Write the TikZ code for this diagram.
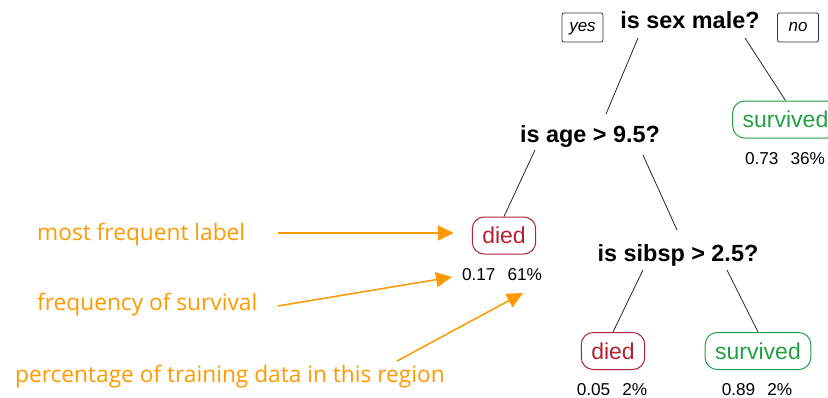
\documentclass[tikz,border=0pt]{standalone}
\usepackage{fontspec}
\setmainfont{Liberation Sans}
\newfontfamily\annfont{Open Sans}
\usetikzlibrary{arrows.meta,calc}
\definecolor{ann}{RGB}{255,153,0}
\definecolor{diedc}{RGB}{178,34,52}
\definecolor{survc}{RGB}{34,160,70}
\begin{document}
\begin{tikzpicture}[x=1pt,y=-1pt,
  q/.style={font=\fontsize{23.4}{23.4}\selectfont\bfseries, inner sep=0pt, anchor=base},
  leaf/.style={draw, line width=1pt, rounded corners=12pt, font=\fontsize{23}{23}\selectfont,
    inner xsep=10pt, inner ysep=0pt, minimum height=37pt, text height=16.5pt, text depth=0pt},
  diedbox/.style={leaf, draw=diedc, text=diedc},
  survbox/.style={leaf, draw=survc, text=survc},
  stat/.style={font=\fontsize{17.2}{17.2}\selectfont, inner sep=0pt, anchor=base},
  tagbox/.style={draw=black!80, line width=0.8pt, rounded corners=2pt, font=\fontsize{17}{17}\selectfont\itshape,
    inner xsep=5pt, inner ysep=0pt, minimum width=41pt, minimum height=29pt, text height=12pt, text depth=4pt},
  edge/.style={draw=black!85, line width=0.8pt},
  annt/.style={font=\annfont\fontsize{22.7}{22.7}\selectfont, text=ann, inner sep=0pt, anchor=base west},
  annarrow/.style={draw=ann, line width=1.5pt, -{Triangle[length=16pt,width=15pt]}}
]
\useasboundingbox (0,0) rectangle (828,397);

% tree nodes
\node[q] (root) at (690,28) {is sex male?};
\node[tagbox] (yes) at (582.5,27.5) {yes};
\node[tagbox] (no) at (798,27.5) {no};
\node[q] (age) at (590,142) {is age > 9.5?};
\node[survbox] (surv1) at (785.5,119.5) {survived};
\node[stat] (s1stat) at (785,164) {0.73\hspace{12pt}36\%};
\node[diedbox] (died1) at (504,235.5) {died};
\node[stat] (d1stat) at (502,280) {0.17\hspace{12pt}61\%};
\node[q] (sib) at (678,261) {is sibsp > 2.5?};
\node[diedbox] (died2) at (613,351) {died};
\node[stat] (d2stat) at (612,395) {0.05\hspace{12pt}2\%};
\node[survbox] (surv2) at (758,351) {survived};
\node[stat] (s2stat) at (757,395) {0.89\hspace{12pt}2\%};

% tree edges
\draw[edge] ($(root.base)+(-52,10)$) -- ($(age.base)+(16,-28)$);
\draw[edge] ($(root.base)+(55,10)$) -- (surv1.north);
\draw[edge] ($(age.base)+(-55,8)$) -- (died1.north);
\draw[edge] ($(age.base)+(53,13)$) -- ($(sib.base)+(-1,-31)$);
\draw[edge] ($(sib.base)+(-35,9)$) -- (died2.north);
\draw[edge] ($(sib.base)+(49,9)$) -- (surv2.north);

% annotations
\node[annt] (t1) at (37,240) {most frequent label};
\node[annt] (t2) at (37,310) {frequency of survival};
\node[annt] (t3) at (15,382) {percentage of training data in this region};
\coordinate (a1s) at (278,233);
\coordinate (a2s) at (278,306);
\coordinate (a3s) at (397,361);
\draw[annarrow] (a1s) -- ($(died1.west)+(-18,-2.5)$);
\draw[annarrow] (a2s) -- ($(d1stat.base)+(-50,-3)$);
\draw[annarrow] (a3s) -- ($(d1stat.base)+(21,13)$);
\end{tikzpicture}
\end{document}
